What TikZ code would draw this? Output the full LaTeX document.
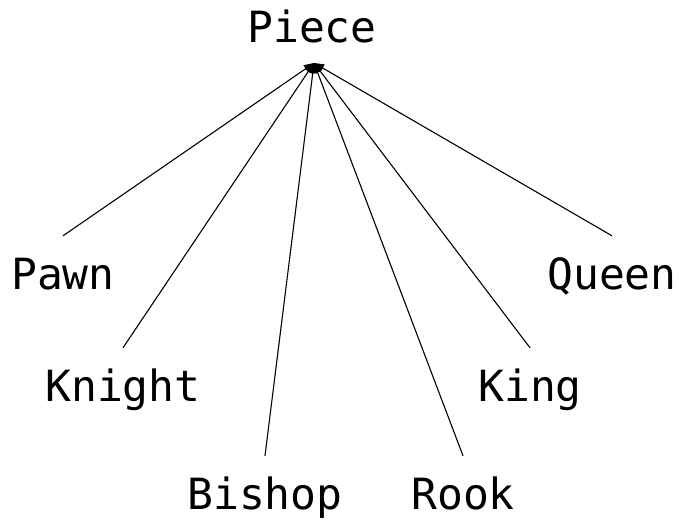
\documentclass[tikz,border=0pt]{standalone}
\usepackage{fontspec}
\setmonofont{DejaVu Sans Mono}
\usetikzlibrary{arrows.meta}

\begin{document}
\begin{tikzpicture}[x=1pt,y=1pt,
    font=\ttfamily\fontsize{43}{48}\selectfont,
    piece/.style={anchor=base,inner xsep=0pt,inner ysep=22pt,
      text height=31pt,text depth=9pt},
    edge/.style={line width=1.1pt,-{Triangle[length=10pt,width=8pt]}}]

  \useasboundingbox (0,0) rectangle (679,-519);

  % Root
  \node[piece] (root) at (312,-43) {Piece};
  \coordinate (tip) at ([yshift=-20pt,xshift=2pt]root.base);

  % Children
  \node[piece] (pawn)   at (63,-289)  {Pawn};
  \node[piece] (knight) at (123,-401) {Knight};
  \node[piece] (bishop) at (265,-509) {Bishop};
  \node[piece] (rook)   at (463,-509) {Rook};
  \node[piece] (king)   at (530,-401) {King};
  \node[piece] (queen)  at (612,-289) {Queen};

  \foreach \n in {pawn,knight,bishop,rook,king,queen}
    \draw[edge] (\n.north) -- (tip);

\end{tikzpicture}
\end{document}
